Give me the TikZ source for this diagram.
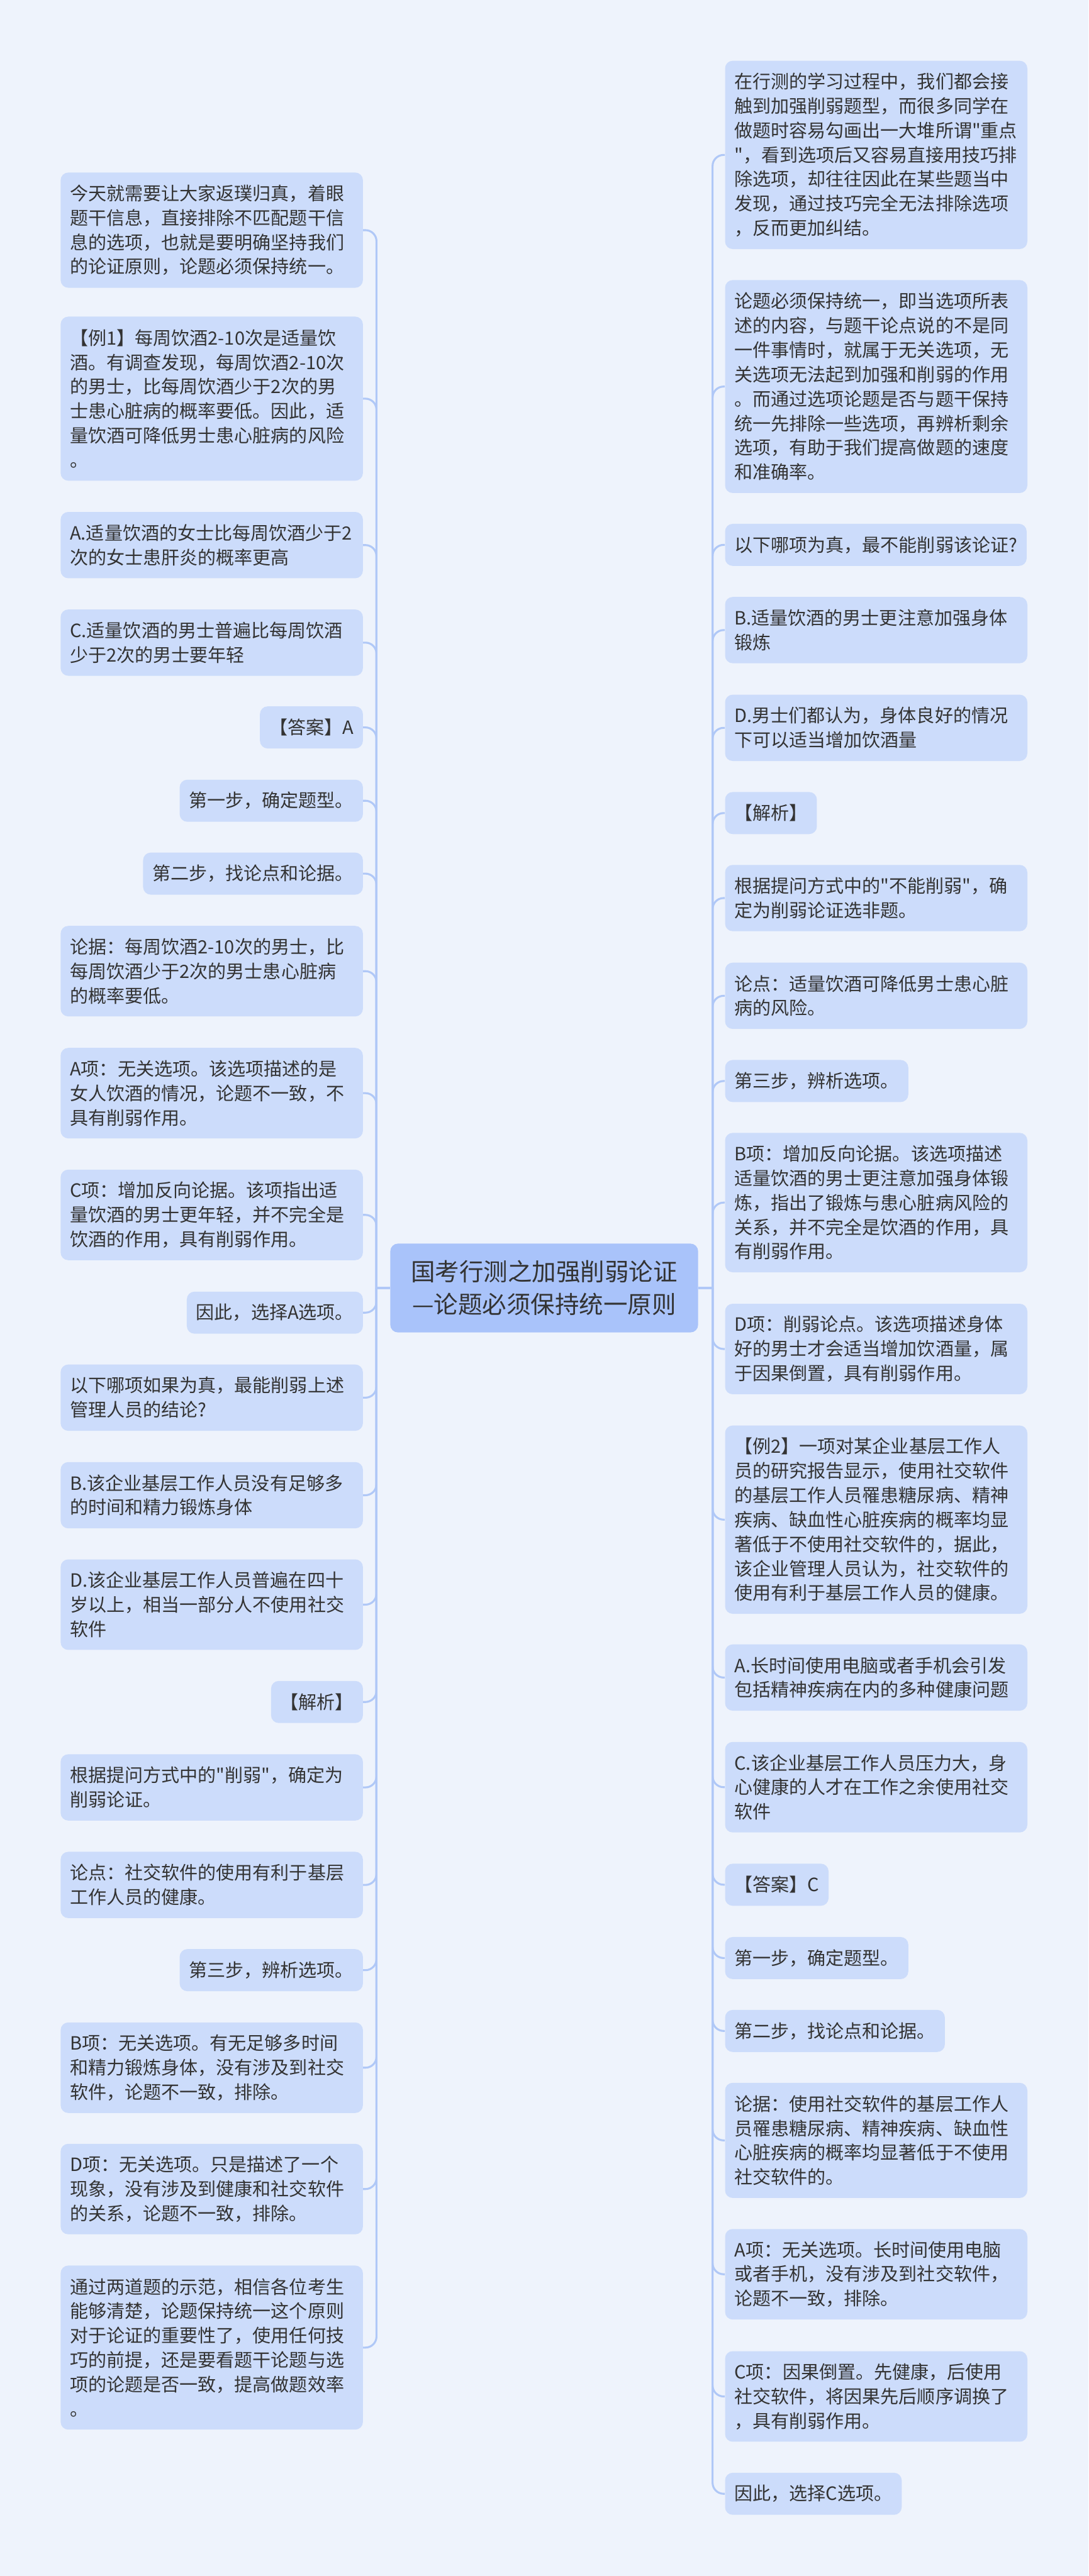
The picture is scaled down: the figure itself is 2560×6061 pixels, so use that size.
\documentclass[tikz,border=0pt]{standalone}
\usepackage{fontspec}
\setmainfont{Noto Sans CJK SC}[Ligatures=TeXOff]
\definecolor{bgc}{HTML}{EEF3FC}
\definecolor{boxc}{HTML}{CCDCFB}
\definecolor{cenc}{HTML}{A9C3FA}
\definecolor{linec}{HTML}{B0C8F7}
\definecolor{txt}{HTML}{333333}
\tikzset{
  box/.style={fill=boxc, rounded corners=9pt, inner xsep=11pt, inner ysep=4pt, text=txt,
    font=\fontsize{21.5pt}{28.75pt}\selectfont, align=left},
  lb/.style={box, anchor=east, text width=333.5pt},
  ls/.style={box, anchor=east},
  rb/.style={box, anchor=west, text width=333.5pt},
  rs/.style={box, anchor=west},
  n1/.style={minimum height=49.5pt},
  n2/.style={minimum height=78pt},
  n3/.style={minimum height=106.5pt},
  n4/.style={minimum height=135.5pt},
  n5/.style={minimum height=164pt},
  n6/.style={minimum height=193pt},
  n7/.style={minimum height=221.5pt},
  n8/.style={minimum height=250.5pt},
  conn/.style={draw=linec, line width=2.3pt, rounded corners=13pt},
  cline/.style={draw=linec, line width=2.3pt},
}
\begin{document}
\begin{tikzpicture}[x=0.5pt,y=-0.5pt]
\path[fill=bgc] (0,0) rectangle (2560,6061);
\useasboundingbox (0,0) rectangle (2560,6061);

\node[fill=cenc, rounded corners=9pt, text=txt, align=center, minimum width=362pt, minimum height=104.5pt,
  font=\fontsize{28.5pt}{38.5pt}\selectfont] (C) at (1280,3030.5) {国考行测之加强削弱论证\\—论题必须保持统一原则};

% left column
\node[lb,n4] (L1) at (854,541.5) {今天就需要让大家返璞归真，着眼\\题干信息，直接排除不匹配题干信\\息的选项，也就是要明确坚持我们\\的论证原则，论题必须保持统一。};
\node[lb,n6] (L2) at (854,938) {【例1】每周饮酒2-10次是适量饮\\酒。有调查发现，每周饮酒2-10次\\的男士，比每周饮酒少于2次的男\\士患心脏病的概率要低。因此，适\\量饮酒可降低男士患心脏病的风险\\。};
\node[lb,n2] (L3) at (854,1282.5) {A.适量饮酒的女士比每周饮酒少于2\\次的女士患肝炎的概率更高};
\node[lb,n2] (L4) at (854,1512) {C.适量饮酒的男士普遍比每周饮酒\\少于2次的男士要年轻};
\node[ls,n1] (L5) at (854,1711.5) {【答案】A};
\node[ls,n1] (L6) at (854,1884) {第一步，确定题型。};
\node[ls,n1] (L7) at (854,2055.5) {第二步，找论点和论据。};
\node[lb,n3] (L8) at (854,2285) {论据：每周饮酒2-10次的男士，比\\每周饮酒少于2次的男士患心脏病\\的概率要低。};
\node[lb,n3] (L9) at (854,2572) {A项：无关选项。该选项描述的是\\女人饮酒的情况，论题不一致，不\\具有削弱作用。};
\node[lb,n3] (L10) at (854,2858.5) {C项：增加反向论据。该项指出适\\量饮酒的男士更年轻，并不完全是\\饮酒的作用，具有削弱作用。};
\node[ls,n1] (L11) at (854,3088.5) {因此，选择A选项。};
\node[lb,n2] (L12) at (854,3288.5) {以下哪项如果为真，最能削弱上述\\管理人员的结论?};
\node[lb,n2] (L13) at (854,3518) {B.该企业基层工作人员没有足够多\\的时间和精力锻炼身体};
\node[lb,n3] (L14) at (854,3775.5) {D.该企业基层工作人员普遍在四十\\岁以上，相当一部分人不使用社交\\软件};
\node[ls,n1] (L15) at (854,4004.5) {【解析】};
\node[lb,n2] (L16) at (854,4205.5) {根据提问方式中的"削弱"，确定为\\削弱论证。};
\node[lb,n2] (L17) at (854,4435) {论点：社交软件的使用有利于基层\\工作人员的健康。};
\node[ls,n1] (L18) at (854,4635.5) {第三步，辨析选项。};
\node[lb,n3] (L19) at (854,4865) {B项：无关选项。有无足够多时间\\和精力锻炼身体，没有涉及到社交\\软件，论题不一致，排除。};
\node[lb,n3] (L20) at (854,5150.5) {D项：无关选项。只是描述了一个\\现象，没有涉及到健康和社交软件\\的关系，论题不一致，排除。};
\node[lb,n6] (L21) at (854,5523.5) {通过两道题的示范，相信各位考生\\能够清楚，论题保持统一这个原则\\对于论证的重要性了，使用任何技\\巧的前提，还是要看题干论题与选\\项的论题是否一致，提高做题效率\\。};

% right column
\node[rb,n7] (R1) at (1705,364.5) {在行测的学习过程中，我们都会接\\触到加强削弱题型，而很多同学在\\做题时容易勾画出一大堆所谓"重点\\"，看到选项后又容易直接用技巧排\\除选项，却往往因此在某些题当中\\发现，通过技巧完全无法排除选项\\，反而更加纠结。};
\node[rb,n8] (R2) at (1705,909.5) {论题必须保持统一，即当选项所表\\述的内容，与题干论点说的不是同\\一件事情时，就属于无关选项，无\\关选项无法起到加强和削弱的作用\\。而通过选项论题是否与题干保持\\统一先排除一些选项，再辨析剩余\\选项，有助于我们提高做题的速度\\和准确率。};
\node[rs,n1] (R3) at (1705,1282) {以下哪项为真，最不能削弱该论证?};
\node[rb,n2] (R4) at (1705,1482.5) {B.适量饮酒的男士更注意加强身体\\锻炼};
\node[rb,n2] (R5) at (1705,1712.5) {D.男士们都认为，身体良好的情况\\下可以适当增加饮酒量};
\node[rs,n1] (R6) at (1705,1913) {【解析】};
\node[rb,n2] (R7) at (1705,2113) {根据提问方式中的"不能削弱"，确\\定为削弱论证选非题。};
\node[rb,n2] (R8) at (1705,2343) {论点：适量饮酒可降低男士患心脏\\病的风险。};
\node[rs,n1] (R9) at (1705,2543.5) {第三步，辨析选项。};
\node[rb,n5] (R10) at (1705,2829.5) {B项：增加反向论据。该选项描述\\适量饮酒的男士更注意加强身体锻\\炼，指出了锻炼与患心脏病风险的\\关系，并不完全是饮酒的作用，具\\有削弱作用。};
\node[rb,n3] (R11) at (1705,3174) {D项：削弱论点。该选项描述身体\\好的男士才会适当增加饮酒量，属\\于因果倒置，具有削弱作用。};
\node[rb,n7] (R12) at (1705,3575.5) {【例2】一项对某企业基层工作人\\员的研究报告显示，使用社交软件\\的基层工作人员罹患糖尿病、精神\\疾病、缺血性心脏疾病的概率均显\\著低于不使用社交软件的，据此，\\该企业管理人员认为，社交软件的\\使用有利于基层工作人员的健康。};
\node[rb,n2] (R13) at (1705,3947) {A.长时间使用电脑或者手机会引发\\包括精神疾病在内的多种健康问题};
\node[rb,n3] (R14) at (1705,4205) {C.该企业基层工作人员压力大，身\\心健康的人才在工作之余使用社交\\软件};
\node[rs,n1] (R15) at (1705,4434.5) {【答案】C};
\node[rs,n1] (R16) at (1705,4607) {第一步，确定题型。};
\node[rs,n1] (R17) at (1705,4778.5) {第二步，找论点和论据。};
\node[rb,n4] (R18) at (1705,5036) {论据：使用社交软件的基层工作人\\员罹患糖尿病、精神疾病、缺血性\\心脏疾病的概率均显著低于不使用\\社交软件的。};
\node[rb,n3] (R19) at (1705,5351) {A项：无关选项。长时间使用电脑\\或者手机，没有涉及到社交软件，\\论题不一致，排除。};
\node[rb,n3] (R20) at (1705,5638.5) {C项：因果倒置。先健康，后使用\\社交软件，将因果先后顺序调换了\\，具有削弱作用。};
\node[rs,n1] (R21) at (1705,5867.5) {因此，选择C选项。};

% connectors
\coordinate (TL) at (885.5,3030.5);
\coordinate (TR) at (1676,3030.5);
\draw[cline] (C.west) -- (TL);
\draw[cline] (C.east) -- (TR);
\foreach \n in {L1,L2,L3,L4,L5,L6,L7,L8,L9,L10,L11,L12,L13,L14,L15,L16,L17,L18,L19,L20,L21}
  \draw[conn] (TL) |- (\n.east);
\foreach \n in {R1,R2,R3,R4,R5,R6,R7,R8,R9,R10,R11,R12,R13,R14,R15,R16,R17,R18,R19,R20,R21}
  \draw[conn] (TR) |- (\n.west);
\end{tikzpicture}
\end{document}
